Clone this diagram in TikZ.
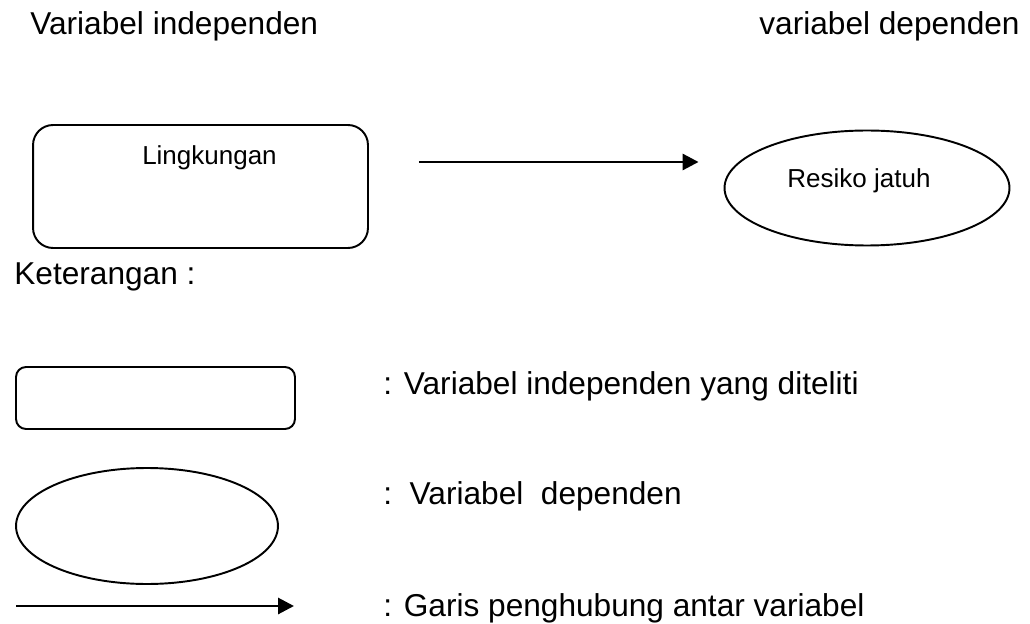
\documentclass[tikz,border=0pt]{standalone}
\usepackage{fontspec}
\setmainfont{Liberation Sans}
\usepackage{tikz}
\usetikzlibrary{arrows.meta,shapes.geometric,positioning}
\tikzset{
    %Define standard arrow tip
    >={Triangle[length=0.32cm,width=0.32cm]},
    %Define style for boxes
    indepbox/.style={
           rectangle,
           rounded corners=0.4cm,
           draw=black, line width=1.1pt,
           minimum width=6.7cm,
           minimum height=2.46cm},
    depellipse/.style={
           ellipse,
           draw=black, line width=1.1pt,
           minimum width=5.7cm,
           minimum height=2.3cm},
    legendbox/.style={
           rectangle,
           rounded corners=0.2cm,
           draw=black, line width=1.1pt,
           minimum width=5.58cm,
           minimum height=1.24cm},
    legendellipse/.style={
           ellipse,
           draw=black, line width=1.1pt,
           minimum width=5.24cm,
           minimum height=2.32cm},
    judul/.style={
           inner sep=0pt,
           font=\fontsize{18}{22}\selectfont},
    isi/.style={
           inner sep=0pt,
           font=\fontsize{14.8}{18}\selectfont},
    % Define arrow style
    pil/.style={
           ->,
           line width=1.7pt}
}
\begin{document}
\begin{tikzpicture}[x=0.02cm,y=-0.02cm]
\useasboundingbox (0,0) rectangle (1030,624);

 %headings
\node[judul, anchor=base west](indep) at (30,35){Variabel independen};
\node[judul, anchor=base east](dep) at (1020,35){variabel dependen};

 %nodes
\node[indepbox](ling) at (200.5,186.5){};
\node[isi, anchor=base](lingtxt) at (209.5,165){Lingkungan};
\node[depellipse](resiko) at (867,188){};
\node[isi, anchor=base](resikotxt) at (859,188){Resiko jatuh};
\draw[pil, shorten <=1cm, shorten >=0.5cm] (ling.east |- 0,162) -- (resiko.west |- 0,162);

 %keterangan
\node[judul, anchor=base west](ket) at (14,285){Keterangan :};
\node[legendbox](lbox) at (155.5,398){};
\node[judul, anchor=base west](lboxtxt) at (383,395){: Variabel independen yang diteliti};
\node[legendellipse](lell) at (147,526){};
\node[judul, anchor=base west](lelltxt) at (383,504){:\ \ Variabel\ \ dependen};
\coordinate (la) at (16,606);
\coordinate (lb) at (294,606);
\draw[pil] (la) -- (lb);
\node[judul, anchor=base west](lpiltxt) at (383,616){: Garis penghubung antar variabel};
\end{tikzpicture}
\end{document}
